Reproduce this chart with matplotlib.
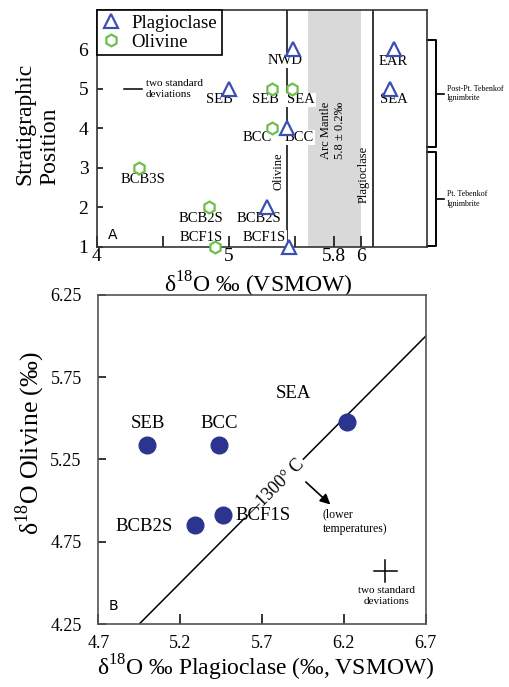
import numpy as np
import matplotlib
matplotlib.use('Agg')
import matplotlib.pyplot as plt

plt.rcParams['font.family'] = ['Liberation Serif', 'DejaVu Serif']
plt.rcParams['mathtext.fontset'] = 'custom'
plt.rcParams['mathtext.rm'] = 'Liberation Serif'

# --- panel A: stratigraphic position vs d18O
plag_names = ['NWD', 'SEB', 'BCC', 'BCB2S', 'BCF1S', 'EAR', 'SEA']
plag_d18o = [5.49, 5.00, 5.44, 5.29, 5.46, 6.25, 6.22]
plag_pos = [6, 5, 4, 2, 1, 6, 5]

oliv_names = ['SEB', 'SEA', 'BCC', 'BCB3S', 'BCB2S', 'BCF1S']
oliv_d18o = [5.33, 5.48, 5.33, 4.32, 4.85, 4.90]
oliv_pos = [5, 5, 4, 3, 2, 1]

olivine_line = 5.44
plag_line = 6.09
arc_mantle = 5.8
arc_mantle_err = 0.2
err_a = 0.068

groups = ['Post-Pt. Tebenkof\nIgnimbrite', 'Pt. Tebenkof\nIgnimbrite']
group_top = [6.24, 3.39]
group_bot = [3.52, 1.02]

# --- panel B: olivine vs plagioclase
b_names = ['SEB', 'BCC', 'BCF1S', 'BCB2S', 'SEA']
b_plag = [5.00, 5.44, 5.46, 5.29, 6.22]
b_oliv = [5.34, 5.34, 4.91, 4.85, 5.48]
iso_x = [4.95, 6.70]
iso_y = [4.25, 6.00]
err_bx = 0.07
err_by = 0.066

blue = '#3b4fb3'
green = '#6cc04a'
navy = '#2b3590'
spine = '#333333'

# label offsets in points (label centre relative to marker)
plag_off = {'NWD': (-6, -8), 'SEB': (-7, -8), 'BCC': (9, -6.5), 'BCB2S': (-6, -8.5),
            'BCF1S': (-18, 6.5), 'EAR': (0, -8.5), 'SEA': (3, -8)}
oliv_off = {'SEB': (-5, -8), 'SEA': (6.5, -8), 'BCC': (-11, -6.5), 'BCB3S': (3, -8.5),
            'BCB2S': (-6, -8.5), 'BCF1S': (-10, 6.5)}

fig = plt.figure(figsize=(5.10, 6.87), dpi=100)
ax = fig.add_axes([0.1896, 0.641, 0.647, 0.3445])
ax.set_xlim(4, 6.5)
ax.set_ylim(1, 7)

ax.axvspan(arc_mantle - arc_mantle_err, arc_mantle + arc_mantle_err, color='#d9d9d9', lw=0, zorder=0)
ax.text(arc_mantle - 0.01, 3.95, 'Arc Mantle\n%.1f ± %.1f‰' % (arc_mantle, arc_mantle_err),
        rotation=90, ha='center', va='center', fontsize=9, multialignment='center')
ax.axvline(olivine_line, color='black', lw=1.1, zorder=1)
ax.axvline(plag_line, color='black', lw=1.1, zorder=1)
ax.text(olivine_line - 0.02, 2.9, 'Olivine', rotation=90, ha='right', va='center', fontsize=9)
ax.text(plag_line - 0.02, 2.82, 'Plagioclase', rotation=90, ha='right', va='center', fontsize=9)

ax.plot(plag_d18o, plag_pos, linestyle='none', marker='^', ms=9.5, mfc='white', mec=blue,
        mew=1.6, clip_on=False, zorder=5, label='Plagioclase')
ax.plot(oliv_d18o, oliv_pos, linestyle='none', marker='h', ms=8.5, mfc='white', mec=green,
        mew=1.6, clip_on=False, zorder=5, label='Olivine')

lab_box = dict(facecolor='white', edgecolor='none', pad=0.5)
for n, x, y in zip(plag_names, plag_d18o, plag_pos):
    ax.annotate(n, (x, y), xytext=plag_off[n], textcoords='offset points', ha='center',
                va='center', fontsize=10.5, bbox=lab_box, zorder=4)
for n, x, y in zip(oliv_names, oliv_d18o, oliv_pos):
    ax.annotate(n, (x, y), xytext=oliv_off[n], textcoords='offset points', ha='center',
                va='center', fontsize=10.5, bbox=lab_box, zorder=4)

# two standard deviations bar
ax.plot([4.276 - err_a, 4.276 + err_a], [5, 5], color='black', lw=1.1)
ax.text(4.37, 5, 'two standard\ndeviations', ha='left', va='center', fontsize=8, linespacing=1.2)
ax.text(4.12, 1.3, 'A', family='DejaVu Sans', fontsize=10, ha='center', va='center')

# brackets to the right of the panel
trans = ax.get_yaxis_transform()
for g, t, b in zip(groups, group_top, group_bot):
    ax.plot([1.0, 1.027, 1.027, 1.0], [t, t, b, b], color='black', lw=1.4, transform=trans,
            clip_on=False)
    m = (t + b) / 2
    ax.plot([1.027, 1.054], [m, m], color='black', lw=1.2, transform=trans, clip_on=False)
    ax.text(1.062, m, g, transform=trans, ha='left', va='center', fontsize=5.8, linespacing=1.3)

ax.set_xticks([4, 4.5, 5, 5.5, 5.8, 6])
ax.set_xticklabels(['4', '', '5', '', '5.8', '6'])
ax.set_yticks([1, 2, 3, 4, 5, 6])
ax.tick_params(axis='x', direction='in', length=8, width=1.1, labelsize=14, pad=1)
ax.tick_params(axis='y', direction='in', length=4, width=1.1, labelsize=14, pad=6)
for s in ax.spines.values():
    s.set_linewidth(1.2)
    s.set_color(spine)

ax.set_xlabel(r'δ$^{18}$O ‰ (VSMOW)', fontsize=17)
ax.xaxis.set_label_coords(0.49, -0.16)
ax.xaxis.label.set_va('center')
ax.set_ylabel('Stratigraphic\nPosition', fontsize=17, multialignment='left', linespacing=1.3)
ax.yaxis.set_label_coords(-0.18, 0.52)
ax.yaxis.label.set_va('center')

leg = ax.legend(loc='upper left', bbox_to_anchor=(0, 1), borderaxespad=0, fancybox=False,
                edgecolor='black', framealpha=1, fontsize=13.5, handlelength=1.0,
                handletextpad=0.6, borderpad=0.25, labelspacing=0.1)
leg.get_frame().set_linewidth(1.2)

# --- panel B
bx = fig.add_axes([0.1928, 0.0917, 0.642, 0.4789])
bx.set_xlim(4.7, 6.7)
bx.set_ylim(4.25, 6.25)

bx.plot(iso_x, iso_y, color='black', lw=1.1, zorder=1)
bx.text(5.775, 5.07, '—1300° C', rotation=45, rotation_mode='anchor', ha='center', va='center',
        fontsize=13, bbox=dict(facecolor='white', edgecolor='none', pad=1.5), zorder=2)
bx.plot(b_plag, b_oliv, linestyle='none', marker='o', ms=12, color=navy, zorder=5)

b_off = {'SEB': (0, 9), 'BCC': (0, 9), 'BCF1S': (9.5, 0), 'BCB2S': (-16, -1), 'SEA': (-39, 14)}
b_ha = {'SEB': 'center', 'BCC': 'center', 'BCF1S': 'left', 'BCB2S': 'right', 'SEA': 'center'}
for n, x, y in zip(b_names, b_plag, b_oliv):
    bx.annotate(n, (x, y), xytext=b_off[n], textcoords='offset points', ha=b_ha[n],
                va='bottom' if b_off[n][1] > 0 else 'center', fontsize=13.5)

bx.annotate('', xy=(6.13, 4.965), xytext=(5.955, 5.125),
            arrowprops=dict(arrowstyle='-|>', color='black', lw=1.2, mutation_scale=15))
bx.text(6.07, 4.955, '(lower\ntemperatures)', ha='left', va='top', fontsize=8.5, linespacing=1.3)

# two standard deviations cross
bx.plot([6.452 - err_bx, 6.452 + err_bx], [4.573, 4.573], color='black', lw=1.1)
bx.plot([6.452, 6.452], [4.573 - err_by, 4.573 + err_by], color='black', lw=1.1)
bx.text(6.46, 4.48, 'two standard\ndeviations', ha='center', va='top', fontsize=8, linespacing=1.3)
bx.text(4.79, 4.36, 'B', family='DejaVu Sans', fontsize=10, ha='center', va='center')

bx.set_xticks([4.7, 5.2, 5.7, 6.2, 6.7])
bx.set_xticklabels(['4.7', '5.2', '5.7', '6.2', '6.7'])
bx.set_yticks([4.25, 4.75, 5.25, 5.75, 6.25])
bx.set_yticklabels(['4.25', '4.75', '5.25', '5.75', '6.25'])
bx.tick_params(axis='x', direction='in', length=7, width=1.1, labelsize=13, pad=8)
bx.tick_params(axis='y', direction='in', length=6, width=1.1, labelsize=13, pad=12)
for s in bx.spines.values():
    s.set_linewidth(1.2)
    s.set_color('#555555')

bx.set_xlabel(r'δ$^{18}$O ‰ Plagioclase (‰, VSMOW)', fontsize=17)
bx.xaxis.set_label_coords(0.51, -0.134)
bx.xaxis.label.set_va('center')
bx.set_ylabel(r'δ$^{18}$O Olivine (‰)', fontsize=18.5)
bx.yaxis.set_label_coords(-0.208, 0.55)
bx.yaxis.label.set_va('center')

fig.savefig('out.png', dpi=100)
